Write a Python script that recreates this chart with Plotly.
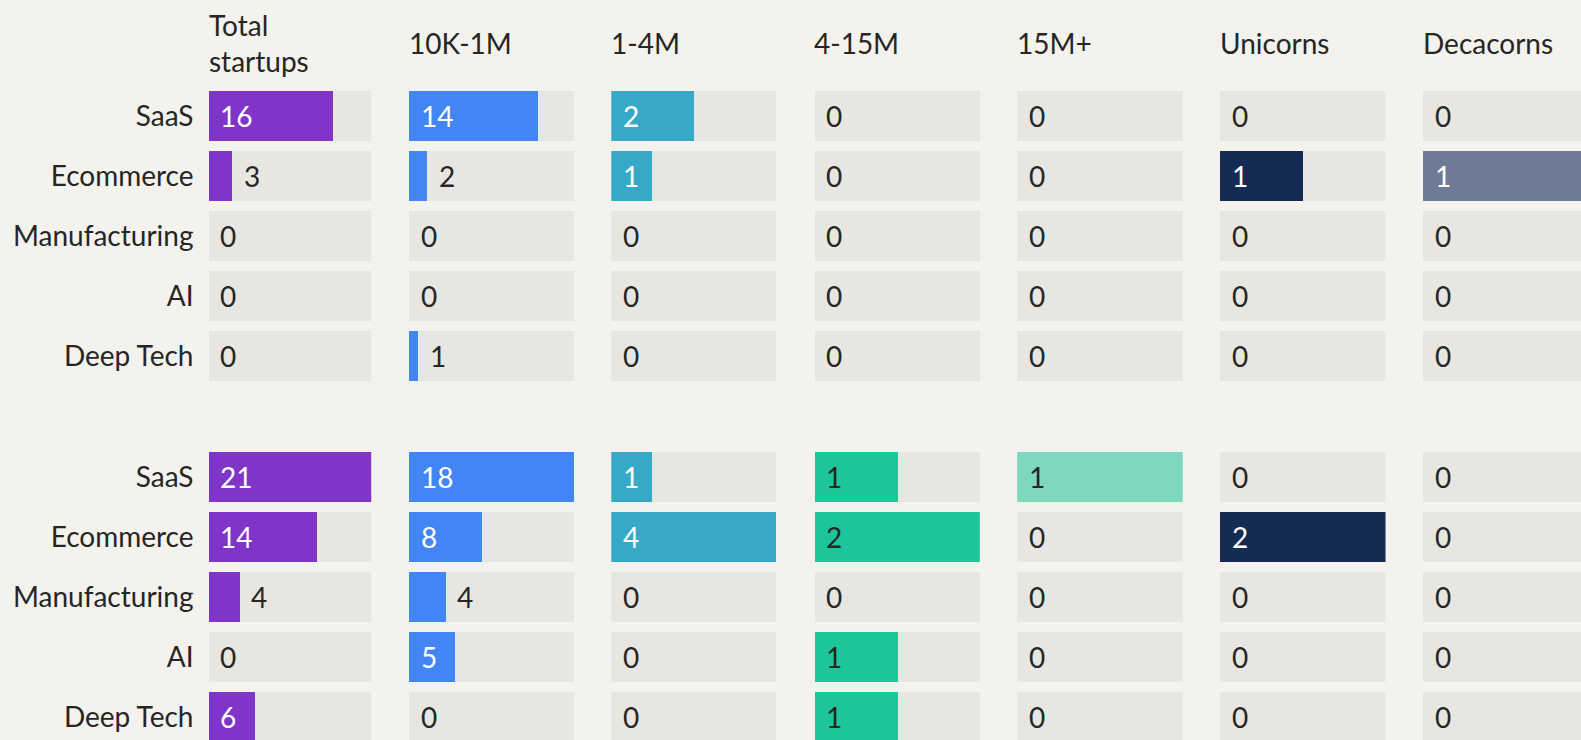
import plotly.graph_objects as go

# ---------------- data ----------------
categories = ["SaaS", "Ecommerce", "Manufacturing", "AI", "Deep Tech"]
column_titles = ["Total<br>startups", "10K-1M", "1-4M", "4-15M", "15M+", "Unicorns", "Decacorns"]

total_g1 = [16, 3, 0, 0, 0]
total_g2 = [21, 14, 4, 0, 6]
k10_1m_g1 = [14, 2, 0, 0, 1]
k10_1m_g2 = [18, 8, 4, 5, 0]
m1_4_g1 = [2, 1, 0, 0, 0]
m1_4_g2 = [1, 4, 0, 0, 0]
m4_15_g1 = [0, 0, 0, 0, 0]
m4_15_g2 = [1, 2, 0, 1, 1]
m15p_g1 = [0, 0, 0, 0, 0]
m15p_g2 = [1, 0, 0, 0, 0]
unicorns_g1 = [0, 1, 0, 0, 0]
unicorns_g2 = [0, 2, 0, 0, 0]
decacorns_g1 = [0, 1, 0, 0, 0]
decacorns_g2 = [0, 0, 0, 0, 0]

series_g1 = [total_g1, k10_1m_g1, m1_4_g1, m4_15_g1, m15p_g1, unicorns_g1, decacorns_g1]
series_g2 = [total_g2, k10_1m_g2, m1_4_g2, m4_15_g2, m15p_g2, unicorns_g2, decacorns_g2]

# ---------------- style ----------------
W, H = 1581, 740
BG = "#f3f2ec"
TRACK = "#e7e6e0"
DARK = "#262626"
FONT = "Lato"
FS = 28
bar_colors = ["#7f35c8", "#4286f5", "#37a9c8", "#1cc59a", "#7dd8be", "#162b54", "#6e7b96"]
inside_text = ["white", "white", "white", DARK, DARK, "white", "white"]
col_left = [208.5, 408.7, 611.3, 814.5, 1017.2, 1220.0, 1423.0]
col_width = [162.7, 165.3, 165.3, 165.3, 165.5, 165.5, 165.5]

# vertical layout: slot pitch and bar thickness in px
pitch = 60.17
first_center = 115.7
y_top = -first_center / pitch
y_bot = (H - first_center) / pitch
bar_w = 50.0 / pitch

slots_g1 = list(range(5))
slots_g2 = [i + 6 for i in range(5)]
slots = slots_g1 + slots_g2

fig = go.Figure()
annotations = []

for c in range(len(column_titles)):
    vals = series_g1[c] + series_g2[c]
    vmax = max(vals)
    xa = "x" if c == 0 else f"x{c+1}"
    left = col_left[c]
    right = min(left + col_width[c], W)
    visible_frac = (right - left) / col_width[c]
    # background track
    fig.add_trace(go.Bar(
        x=[vmax] * len(slots), y=slots, orientation="h", width=bar_w,
        marker=dict(color=TRACK, line=dict(width=0)), xaxis=xa, yaxis="y",
        hoverinfo="skip", showlegend=False,
    ))
    # value bars
    fig.add_trace(go.Bar(
        x=vals, y=slots, orientation="h", width=bar_w,
        marker=dict(color=bar_colors[c], line=dict(width=0)), xaxis=xa, yaxis="y",
        showlegend=False, name=column_titles[c].replace("<br>", " "),
    ))
    axis_key = "xaxis" if c == 0 else f"xaxis{c+1}"
    fig.layout[axis_key] = dict(
        domain=[left / W, right / W], range=[0, vmax * visible_frac],
        visible=False, anchor="y", fixedrange=True,
    )
    # value labels
    for s, v in zip(slots, vals):
        px = v / vmax * col_width[c]
        if v == 0:
            annotations.append(dict(x=0, y=s, xref=xa, yref="y", text=str(v), showarrow=False,
                                    xanchor="left", xshift=10, font=dict(color=DARK, size=FS, family=FONT)))
        elif px >= 40:
            annotations.append(dict(x=0, y=s, xref=xa, yref="y", text=str(v), showarrow=False,
                                    xanchor="left", xshift=10, font=dict(color=inside_text[c], size=FS, family=FONT)))
        else:
            annotations.append(dict(x=v, y=s, xref=xa, yref="y", text=str(v), showarrow=False,
                                    xanchor="left", xshift=10, font=dict(color=DARK, size=FS, family=FONT)))
    # column header
    annotations.append(dict(x=0, y=1 - 43 / H, xref=f"{xa} domain", yref="paper",
                            text=column_titles[c], showarrow=False, xanchor="left", yanchor="middle",
                            align="left", xshift=-2, font=dict(color=DARK, size=FS, family=FONT)))

fig.update_layout(
    width=W, height=H, margin=dict(l=0, r=0, t=0, b=0),
    paper_bgcolor=BG, plot_bgcolor=BG, barmode="overlay", bargap=0,
    font=dict(family=FONT, size=FS, color=DARK),
    yaxis=dict(range=[y_bot, y_top], tickmode="array", tickvals=slots,
               ticktext=categories + categories, showgrid=False, zeroline=False,
               showline=False, ticks="", ticklabelstandoff=14, anchor="x",
               tickfont=dict(family=FONT, size=FS, color=DARK), fixedrange=True),
    annotations=annotations,
    showlegend=False,
)

fig.write_html("out.html", config={"displayModeBar": False},
               post_script="document.body.style.margin='0';document.body.style.overflow='hidden';")
